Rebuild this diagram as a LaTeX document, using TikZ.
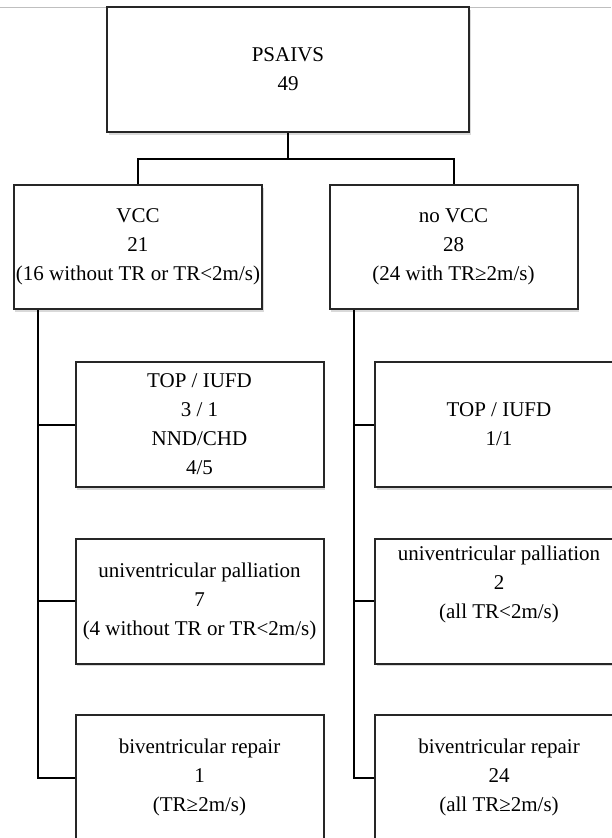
\documentclass[tikz,border=0pt]{standalone}
\usepackage{fontspec}
\setmainfont{Liberation Serif}
\usetikzlibrary{positioning,shadows}

\tikzset{
    box/.style={draw=black!85, line width=2pt, fill=white, align=center,
        font=\fontsize{21}{29}\selectfont, inner sep=2pt,
        drop shadow={shadow xshift=1.5pt, shadow yshift=-2.5pt, opacity=0.3}},
    bigbox/.style={box, minimum width=362pt, minimum height=125pt},
    catbox/.style={box, minimum width=248pt, minimum height=124pt},
    outbox/.style={box, minimum width=248pt, minimum height=125pt},
    link/.style={line width=2pt, black}
}

\begin{document}
\begin{tikzpicture}[x=1pt,y=-1pt]
    \useasboundingbox (0,0) rectangle (611,838);
    % page edge
    \draw[black!25, line width=0.8pt] (0,7) -- (611,7);

    % Top box
    \node[bigbox] (all) at (288,69.5) {PSAIVS\\49};

    % Second level
    \node[catbox] (vcc) at (138,247) {VCC\\21\\(16 without TR or TR<2m/s)};
    \node[catbox] (novcc) at (453.5,247) {no VCC\\28\\(24 with TR≥2m/s)};

    % Outcomes with VCC
    \node[outbox] (vtop) at (199.5,424.5) {TOP / IUFD\\3 / 1\\NND/CHD\\4/5};
    \node[outbox] (vuni) at (199.5,601) {univentricular palliation\\7\\(4 without TR or TR<2m/s)};
    \node[outbox] (vbiv) at (199.5,777.5) {biventricular repair\\1\\(TR≥2m/s)};

    % Outcomes without VCC
    \node[outbox] (ntop) at (499,424.5) {TOP / IUFD\\1/1};
    \node[outbox] (nuni) at (499,601) {univentricular palliation\\2\\(all TR<2m/s)\\\strut};
    \node[outbox] (nbiv) at (499,777.5) {biventricular repair\\24\\(all TR≥2m/s)};

    % Split below the top box
    \coordinate (split) at (288,159);
    \draw[link] (all.south) -- (split);
    \draw[link] (vcc.north) |- (split) -| (novcc.north);

    % Trunks
    \coordinate[right=25pt of vcc.south west] (vtrunk);
    \coordinate[right=25pt of novcc.south west] (ntrunk);
    \draw[link] (vtrunk) |- (vbiv.west);
    \draw[link] (vtrunk |- vtop.west) -- (vtop.west);
    \draw[link] (vtrunk |- vuni.west) -- (vuni.west);
    \draw[link] (ntrunk) |- (nbiv.west);
    \draw[link] (ntrunk |- ntop.west) -- (ntop.west);
    \draw[link] (ntrunk |- nuni.west) -- (nuni.west);
\end{tikzpicture}
\end{document}
